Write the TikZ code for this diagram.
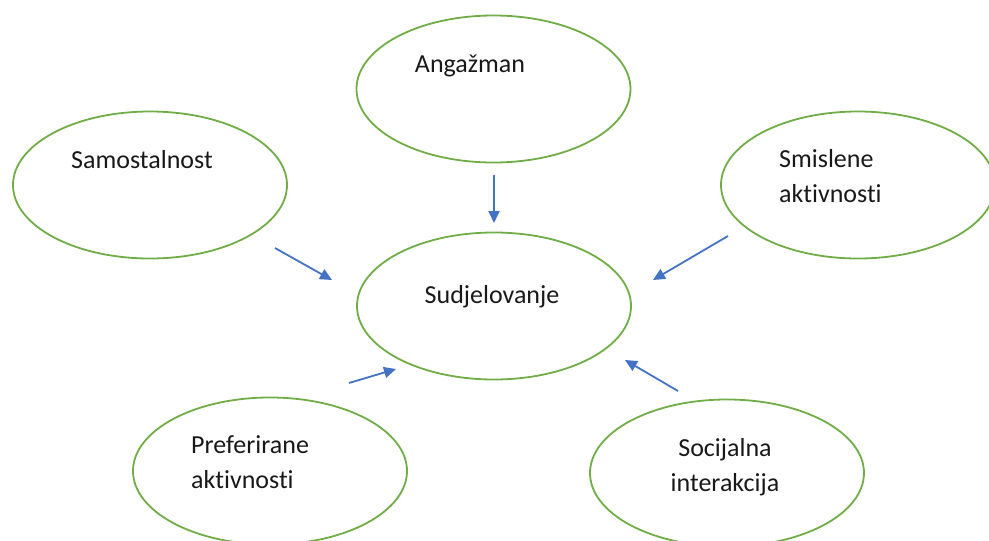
\documentclass[tikz,border=0pt]{standalone}
\usepackage{fontspec}
\setmainfont{Carlito}[Ligatures={NoCommon}]
\usetikzlibrary{arrows.meta,shapes.geometric}
\definecolor{ogreen}{RGB}{112,173,71}
\definecolor{oblue}{RGB}{68,114,196}
\begin{document}
\begin{tikzpicture}[x=1pt,y=-1pt,
  oval/.style={draw=ogreen,line width=1.8pt,ellipse,minimum width=274pt,minimum height=147pt,inner sep=0pt},
  lbl/.style={font=\fontsize{26}{35}\selectfont,text=black!90,inner sep=0pt},
  conn/.style={draw=oblue,line width=1.8pt,-{Triangle[length=12pt,width=11pt]}}]
\useasboundingbox (0,0) rectangle (989,541);
\node[oval] (eang) at (493.5,89) {};
\node[oval] (esam) at (150,185) {};
\node[oval] (esmi) at (858,185) {};
\node[oval] (esud) at (494,306) {};
\node[oval] (epre) at (270,471) {};
\node[oval] (esoc) at (727,473) {};
\node[lbl] (tang) at (470,66) {Angažman};
\node[lbl] (tsam) at (142,160) {Samostalnost};
\node[lbl,align=left,anchor=west] (tsmi) at (779,176.5) {Smislene\\aktivnosti};
\node[lbl] (tsud) at (492,297) {Sudjelovanje};
\node[lbl,align=left,anchor=west] (tpre) at (191,462.5) {Preferirane\\aktivnosti};
\node[lbl,align=center] (tsoc) at (725,467.5) {Socijalna\\interakcija};
\coordinate (a1s) at (494,175);
\coordinate (a1e) at (494,223);
\coordinate (a2s) at (275,248);
\coordinate (a2e) at (332,280);
\coordinate (a3s) at (728,236);
\coordinate (a3e) at (653,280);
\coordinate (a4s) at (349,383);
\coordinate (a4e) at (396,369);
\coordinate (a5s) at (678,391);
\coordinate (a5e) at (625,360);
\draw[conn] (a1s) -- (a1e);
\draw[conn] (a2s) -- (a2e);
\draw[conn] (a3s) -- (a3e);
\draw[conn] (a4s) -- (a4e);
\draw[conn] (a5s) -- (a5e);
\end{tikzpicture}
\end{document}
